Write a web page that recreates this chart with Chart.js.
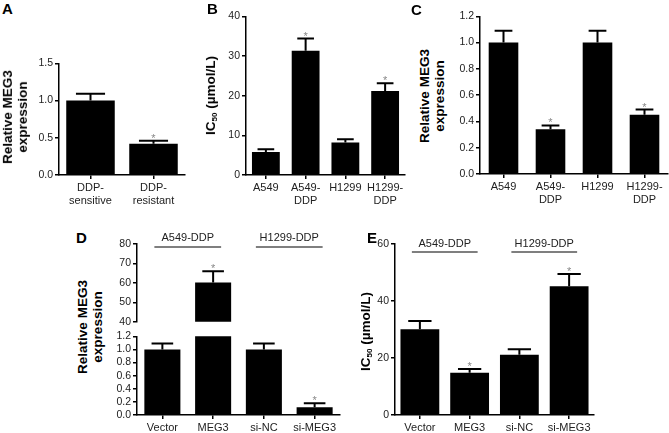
<!DOCTYPE html>
<html>
<head>
<meta charset="utf-8">
<script src="https://cdn.jsdelivr.net/npm/chart.js@4"></script>
<style>
body { margin: 0; background: #fff; width: 669px; height: 433px; position: relative; overflow: hidden; font-family: "Liberation Sans", Arial, sans-serif; }
canvas { position: absolute; }
.letter { position: absolute; font-weight: bold; font-size: 15px; color: #000; }
.ytitle { position: absolute; font-weight: bold; font-size: 13.5px; line-height: 15px; color: #000; text-align: center; white-space: nowrap; transform: rotate(-90deg); }
.ytitle sub { font-size: 8px; vertical-align: -2px; }
</style>
</head>
<body>
<script>
// panel A
const labelsA = [['DDP-', 'sensitive'], ['DDP-', 'resistant']];
const valuesA = [1.0, 0.42];
const errA = [0.09, 0.04];
const starsA = [false, true];
const ticksA = [0, 0.5, 1.0, 1.5];

// panels B and C (cell lines)
const labelsCell = [['A549'], ['A549-', 'DDP'], ['H1299'], ['H1299-', 'DDP']];
const valuesB = [5.8, 31.3, 8.2, 21.2];
const errB = [0.7, 3.1, 0.8, 1.9];
const ticksB = [0, 10, 20, 30, 40];
const valuesC = [1.0, 0.34, 1.0, 0.45];
const errC = [0.09, 0.03, 0.09, 0.04];
const ticksC = [0, 0.2, 0.4, 0.6, 0.8, 1.0, 1.2];
const starsCell = [false, true, false, true];

// panels D and E (treatments)
const labelsTreat = ['Vector', 'MEG3', 'si-NC', 'si-MEG3'];
const groupNames = ['A549-DDP', 'H1299-DDP'];
const valuesD = [1.0, 60.2, 1.0, 0.12];
const errD = [0.09, 5.8, 0.09, 0.06];
const ticksDUpper = [40, 50, 60, 70, 80];
const ticksDLower = [0, 0.2, 0.4, 0.6, 0.8, 1.0, 1.2];
const valuesE = [30.1, 14.8, 21.1, 45.2];
const errE = [2.9, 1.3, 2.0, 4.3];
const ticksE = [0, 20, 40, 60];
const starsTreat = [false, true, false, true];

const FONT = '"Liberation Sans", Arial, sans-serif';
const YW = 30;

// error bars, stars and group lines drawn on top of the bars
const errPlugin = {
    id: 'errbars',
    afterDatasetsDraw(chart, args, opts) {
        const meta = chart.getDatasetMeta(0);
        const y = chart.scales.y;
        const vals = chart.data.datasets[0].data;
        const ctx = chart.ctx;
        ctx.save();
        meta.data.forEach((bar, i) => {
            const v = vals[i];
            if (v == null || !opts.err) return;
            const top = v + opts.err[i];
            if (top > y.max || top < y.min) return;
            const yt = y.getPixelForValue(top);
            const yb = y.getPixelForValue(Math.max(v, y.min));
            const hw = bar.width * 0.3;
            ctx.strokeStyle = '#000';
            ctx.lineWidth = 2;
            ctx.beginPath();
            ctx.moveTo(bar.x, yb);
            ctx.lineTo(bar.x, yt);
            ctx.moveTo(bar.x - hw, yt);
            ctx.lineTo(bar.x + hw, yt);
            ctx.stroke();
            if (opts.stars && opts.stars[i]) {
                ctx.fillStyle = '#888';
                ctx.font = '11px ' + FONT;
                ctx.textAlign = 'center';
                ctx.textBaseline = 'alphabetic';
                ctx.fillText('*', bar.x, yt + 1);
            }
        });
        if (opts.groups) {
            const lineY = chart.chartArea.top + opts.groupLine;
            opts.groups.forEach((name, g) => {
                const x0 = meta.data[g * 2].x - 8;
                const x1 = meta.data[g * 2 + 1].x + 8;
                ctx.strokeStyle = '#000';
                ctx.lineWidth = 1.2;
                ctx.beginPath();
                ctx.moveTo(x0, lineY);
                ctx.lineTo(x1, lineY);
                ctx.stroke();
                ctx.fillStyle = '#222';
                ctx.font = '11px ' + FONT;
                ctx.textAlign = 'center';
                ctx.textBaseline = 'middle';
                ctx.fillText(name, (x0 + x1) / 2, lineY - opts.groupText);
            });
        }
        ctx.restore();
    }
};

function makeBar(id, area, cfg) {
    const PT = cfg.padTop || 8;
    const PR = cfg.padRight == null ? 8 : cfg.padRight;
    const XH = cfg.showX === false ? 0 : cfg.xh;
    const PB = cfg.showX === false ? 7 : 0;
    const w = YW + (area.right - area.left) + PR;
    const h = PT + (area.bottom - area.top) + XH + PB;
    const c = document.createElement('canvas');
    c.id = id;
    c.width = w;
    c.height = h;
    c.style.left = (area.left - YW) + 'px';
    c.style.top = (area.top - PT) + 'px';
    c.style.width = w + 'px';
    c.style.height = h + 'px';
    document.body.appendChild(c);
    const ticks = cfg.ticks;
    new Chart(c, {
        type: 'bar',
        data: {
            labels: cfg.labels,
            datasets: [{
                data: cfg.values,
                backgroundColor: '#000',
                borderWidth: 0,
                barPercentage: cfg.barPct,
                categoryPercentage: 1
            }]
        },
        options: {
            responsive: false,
            animation: false,
            devicePixelRatio: 1,
            layout: { padding: { top: PT, right: PR, bottom: PB, left: 0 } },
            plugins: {
                legend: { display: false },
                tooltip: { enabled: false },
                errbars: { err: cfg.err, stars: cfg.stars, groups: cfg.groups, groupLine: cfg.groupLine, groupText: cfg.groupText }
            },
            scales: {
                x: {
                    display: cfg.showX !== false,
                    grid: { offset: false, drawOnChartArea: false, tickLength: 4, color: '#000', lineWidth: 1.5 },
                    border: { color: '#000', width: 1.5 },
                    ticks: { color: '#222', font: { family: FONT, size: 11, lineHeight: 1.2 }, padding: 2, maxRotation: 0, autoSkip: false },
                    afterFit(s) { s.height = XH; }
                },
                y: {
                    min: ticks[0],
                    max: ticks[ticks.length - 1],
                    grid: { drawOnChartArea: false, tickLength: 4, color: '#000', lineWidth: 1.5 },
                    border: { color: '#000', width: 1.5 },
                    ticks: {
                        stepSize: ticks[1] - ticks[0],
                        autoSkip: false,
                        color: '#222',
                        font: { family: FONT, size: 10.5 },
                        padding: 2,
                        callback: v => Number(v).toFixed(cfg.dec)
                    },
                    afterFit(s) { s.width = YW; }
                }
            }
        },
        plugins: [errPlugin]
    });
}

function addLetter(t, left, top) {
    const d = document.createElement('div');
    d.className = 'letter';
    d.textContent = t;
    d.style.left = left + 'px';
    d.style.top = top + 'px';
    document.body.appendChild(d);
}

function addTitle(html, cx, cy) {
    const d = document.createElement('div');
    d.className = 'ytitle';
    d.innerHTML = html;
    document.body.appendChild(d);
    const w = d.offsetWidth, h = d.offsetHeight;
    d.style.left = (cx - w / 2) + 'px';
    d.style.top = (cy - h / 2) + 'px';
}

makeBar('chartA', { left: 59, right: 185, top: 63, bottom: 175 }, {
    labels: labelsA, values: valuesA, err: errA, stars: starsA, ticks: ticksA, dec: 1, barPct: 0.77, xh: 32
});
makeBar('chartB', { left: 246, right: 405, top: 16, bottom: 175 }, {
    labels: labelsCell, values: valuesB, err: errB, stars: starsCell, ticks: ticksB, dec: 0, barPct: 0.70, xh: 32
});
makeBar('chartC', { left: 480, right: 668, top: 16, bottom: 174 }, {
    labels: labelsCell, values: valuesC, err: errC, stars: starsCell, ticks: ticksC, dec: 1, barPct: 0.63, xh: 32, padRight: 1
});
makeBar('chartDUpper', { left: 137, right: 340, top: 244, bottom: 323 }, {
    labels: labelsTreat, values: valuesD.map(v => v >= ticksDUpper[0] ? v : null), err: errD, stars: starsTreat,
    ticks: ticksDUpper, dec: 0, barPct: 0.71, showX: false, padTop: 20,
    groups: groupNames, groupLine: 3, groupText: 9
});
makeBar('chartDLower', { left: 137, right: 340, top: 336, bottom: 415 }, {
    labels: labelsTreat, values: valuesD, err: errD, stars: starsTreat, ticks: ticksDLower, dec: 1, barPct: 0.71, xh: 20
});
makeBar('chartE', { left: 395, right: 594, top: 244, bottom: 415 }, {
    labels: labelsTreat, values: valuesE, err: errE, stars: starsTreat, ticks: ticksE, dec: 0, barPct: 0.78, xh: 20, padTop: 20,
    groups: groupNames, groupLine: 8, groupText: 8
});

addLetter('A', 2, 0);
addLetter('B', 207, 0);
addLetter('C', 411, 1);
addLetter('D', 76, 229);
addLetter('E', 367, 229);

addTitle('Relative MEG3<br>expression', 15, 117);
addTitle('IC<sub>50</sub> (µmol/L)', 212, 95);
addTitle('Relative MEG3<br>expression', 432, 96);
addTitle('Relative MEG3<br>expression', 90, 327);
addTitle('IC<sub>50</sub> (µmol/L)', 367, 331);
</script>
</body>
</html>
